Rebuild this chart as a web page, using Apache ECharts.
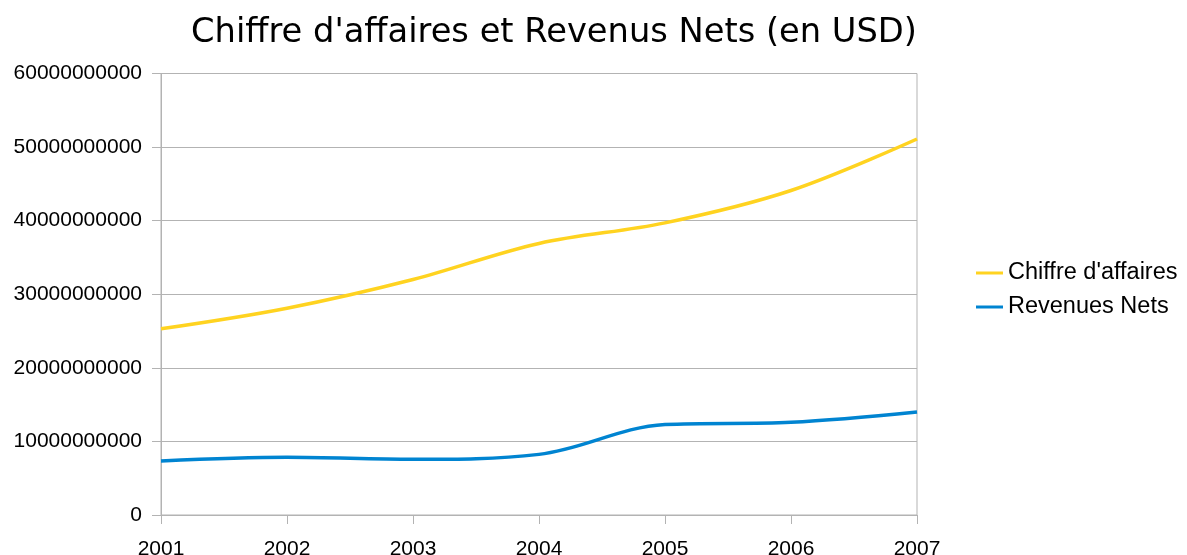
<!DOCTYPE html>
<html>
<head>
<meta charset="utf-8">
<script src="https://cdn.jsdelivr.net/npm/echarts@6/dist/echarts.min.js"></script>
<style>
  html, body { margin: 0; padding: 0; background: #fff; }
  #chart { width: 1187px; height: 555px; }
</style>
</head>
<body>
<div id="chart"></div>
<script>
// data
const years = ['2001', '2002', '2003', '2004', '2005', '2006', '2007']
const chiffreAffaires = [25300000000, 28100000000, 32000000000, 36900000000, 39700000000, 44100000000, 51100000000]
const revenusNets = [7330000000, 7840000000, 7570000000, 8240000000, 12300000000, 12600000000, 14000000000]

const chart = echarts.init(document.getElementById('chart'))

const axisGrey = '#b3b3b3'
const labelFont = { color: '#000', fontSize: 21, fontFamily: 'Liberation Sans' }

chart.setOption({
  animation: false,
  title: {
    text: "Chiffre d'affaires et Revenus Nets (en USD)",
    left: 549,
    textAlign: 'center',
    top: 11,
    padding: 5,
    textStyle: { fontFamily: 'DejaVu Sans', fontWeight: 'normal', fontSize: 33.7, color: '#000' }
  },
  legend: {
    orient: 'vertical',
    left: 976,
    top: 261,
    padding: 0,
    itemWidth: 27,
    itemHeight: 12,
    itemGap: 10,
    icon: 'path://M0,5 L27,5 L27,8 L0,8 Z',
    textStyle: Object.assign({}, labelFont, { fontSize: 23.5 }),
    data: ["Chiffre d'affaires", 'Revenues Nets']
  },
  grid: {
    left: 161,
    right: 270,
    top: 73.5,
    bottom: 40,
    outerBoundsMode: 'none',
    show: true,
    borderColor: axisGrey,
    borderWidth: 1
  },
  xAxis: {
    type: 'category',
    data: years,
    boundaryGap: false,
    axisLine: { lineStyle: { color: axisGrey } },
    axisTick: { length: 9, lineStyle: { color: axisGrey } },
    axisLabel: Object.assign({ margin: 24 }, labelFont),
    splitLine: { show: false }
  },
  yAxis: {
    type: 'value',
    min: 0,
    max: 60000000000,
    interval: 10000000000,
    axisLine: { show: true, lineStyle: { color: axisGrey } },
    axisTick: { show: true, length: 9, lineStyle: { color: axisGrey } },
    axisLabel: Object.assign({ margin: 19, formatter: v => String(v) }, labelFont),
    splitLine: { lineStyle: { color: axisGrey } }
  },
  series: [
    {
      name: "Chiffre d'affaires",
      type: 'line',
      data: chiffreAffaires,
      smooth: 0.35,
      showSymbol: false,
      lineStyle: { width: 3.5, color: '#ffd320' },
      itemStyle: { color: '#ffd320' }
    },
    {
      name: 'Revenues Nets',
      type: 'line',
      data: revenusNets,
      smooth: 0.35,
      showSymbol: false,
      lineStyle: { width: 3.5, color: '#0084d1' },
      itemStyle: { color: '#0084d1' }
    }
  ]
})
</script>
</body>
</html>
